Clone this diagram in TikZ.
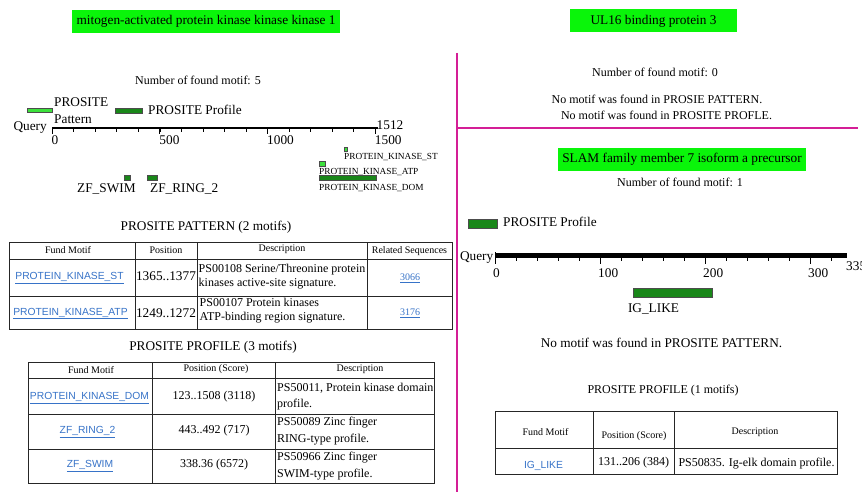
\documentclass[tikz,border=0pt]{standalone}
\usepackage{fontspec}
\setmainfont{Liberation Serif}
\newfontfamily\linkfont{Liberation Sans}
\definecolor{titlegreen}{RGB}{10,245,10}
\definecolor{patgreen}{RGB}{60,225,60}
\definecolor{profgreen}{RGB}{25,135,25}
\definecolor{divider}{RGB}{212,30,150}
\definecolor{linkblue}{RGB}{55,115,200}
\tikzset{
  titlebox/.style={fill=titlegreen, inner sep=0pt, minimum height=23, font=\fontsize{13.3}{15}\selectfont},
  txt/.style={inner sep=0pt, font=\fontsize{13.3}{15}\selectfont},
  plain/.style={inner sep=0pt, font=\fontsize{12}{14}\selectfont},
  small/.style={inner sep=0pt, font=\fontsize{10}{12}\selectfont},
  tiny/.style={inner sep=0pt, font=\fontsize{9.3}{10}\selectfont},
  cell/.style={inner sep=0pt, align=left, font=\fontsize{12}{14}\selectfont},
  link/.style={inner sep=0pt, text=linkblue, font=\linkfont\fontsize{10.3}{12}\selectfont},
  patbar/.style={draw=black!70, fill=patgreen, line width=0.5},
  profbar/.style={draw=black!70, fill=profgreen, line width=0.5},
  grid/.style={line width=0.9, black!85}
}
\begin{document}
\begin{tikzpicture}[x=1pt,y=-1pt]
\clip (0,0) rectangle (862,492);
\fill[white] (0,0) rectangle (862,492);

\draw[divider, line width=2.5] (457,53) -- (457,492);
\draw[divider, line width=2.5] (457,128) -- (858,128);

\node[titlebox, minimum width=268] (t1) at (206,21.5) {mitogen-activated protein kinase kinase kinase 1};
\node[plain] (n1) at (198,80) {Number of found motif: 5};

\draw[patbar] (27,108) rectangle (52,112);
\node[txt, anchor=west, align=left, font=\fontsize{13.3}{17}\selectfont] (lp1) at (54,110.5) {PROSITE\\Pattern};
\draw[profbar] (115,108) rectangle (142,113);
\node[txt, anchor=west] (lf1) at (148,110) {PROSITE Profile};

\node[txt, anchor=east] (q1) at (47,128) {Query};
\draw[line width=2.5] (52,128) -- (377.5,128);
\node[txt, anchor=west] (e1) at (376.5,125.5) {1512};
\foreach \v in {0,100,...,1500}
  \draw[line width=0.5] ({52+\v*0.2155},129) -- ++(0,3);
\foreach \v in {0,500,1000,1500} {
  \draw[line width=0.6] ({52+\v*0.2155},129) -- ++(0,5);
  \node[txt, anchor=north west] (s\v) at ({52+\v*0.2155-0.5},135) {\v};
}

\draw[patbar] (344,147) rectangle (347.5,151.5);
\node[tiny, anchor=west] (m1) at (344,157.5) {PROTEIN\_KINASE\_ST};
\draw[patbar] (319,161) rectangle (325,166);
\node[tiny, anchor=west] (m2) at (319,172) {PROTEIN\_KINASE\_ATP};
\draw[profbar] (319,175.5) rectangle (376,180);
\node[tiny, anchor=west] (m3) at (319,188) {PROTEIN\_KINASE\_DOM};
\draw[profbar] (124,175.5) rectangle (130,180);
\node[txt, anchor=west] (m4) at (77,188.5) {ZF\_SWIM};
\draw[profbar] (147,175.5) rectangle (157,180);
\node[txt, anchor=west] (m5) at (150,188.5) {ZF\_RING\_2};

\node[txt] (h1) at (206,227.5) {PROSITE PATTERN (2 motifs)};
\draw[grid] (9,242) rectangle (452,329);
\draw[grid] (9,259) -- (452,259);
\draw[grid] (9,296) -- (452,296);
\draw[grid] (135,242) -- (135,329);
\draw[grid] (197,242) -- (197,329);
\draw[grid] (367,242) -- (367,329);
\node[small] (a0) at (68,250.5) {Fund Motif};
\node[small] (b0) at (166,250.5) {Position};
\node[small] (c0) at (282,249.5) {Description};
\node[small] (d0) at (409.5,251) {Related Sequences};
\node[link] (a1) at (69.5,278) {\underline{PROTEIN\_KINASE\_ST}};
\node[txt] (b1) at (166,276.5) {1365..1377};
\node[cell, anchor=west] (c1) at (198.5,276.5) {PS00108 Serine/Threonine protein\\kinases active-site signature.};
\node[small, text=linkblue] (d1) at (410,278) {\underline{3066}};
\node[link] (a2) at (70.5,313.5) {\underline{PROTEIN\_KINASE\_ATP}};
\node[txt] (b2) at (166,313) {1249..1272};
\node[cell, anchor=west] (c2) at (199.5,310.5) {PS00107 Protein kinases\\ATP-binding region signature.};
\node[small, text=linkblue] (d2) at (410,313.5) {\underline{3176}};

\node[txt] (h2) at (213,347) {PROSITE PROFILE (3 motifs)};
\draw[grid] (28,362) rectangle (434,483);
\draw[grid] (28,378.5) -- (434,378.5);
\draw[grid] (28,414) -- (434,414);
\draw[grid] (28,449) -- (434,449);
\draw[grid] (152,362) -- (152,483);
\draw[grid] (275,362) -- (275,483);
\node[small] (f0) at (91,370.5) {Fund Motif};
\node[small] (g0) at (216,369.5) {Position (Score)};
\node[small] (k0) at (360,369.5) {Description};
\node[link] (f1) at (89.5,398) {\underline{PROTEIN\_KINASE\_DOM}};
\node[cell] (g1) at (214,397) {123..1508 (3118)};
\node[cell, anchor=west, font=\fontsize{12}{16.5}\selectfont] (k1) at (277,396.5) {PS50011, Protein kinase domain\\profile.};
\node[link] (f2) at (87.5,432) {\underline{ZF\_RING\_2}};
\node[cell] (g2) at (214,431) {443..492 (717)};
\node[cell, anchor=west, font=\fontsize{12}{16.5}\selectfont] (k2) at (277,431) {PS50089 Zinc finger\\RING-type profile.};
\node[link] (f3) at (90,466) {\underline{ZF\_SWIM}};
\node[cell] (g3) at (214,465) {338.36 (6572)};
\node[cell, anchor=west, font=\fontsize{12}{16.5}\selectfont] (k3) at (277,466) {PS50966 Zinc finger\\SWIM-type profile.};

\node[titlebox, minimum width=167] (t2) at (653.5,21) {UL16 binding protein 3};
\node[plain] (n2) at (655,72) {Number of found motif: 0};
\node[plain] (r1) at (657,99.5) {No motif was found in PROSIE PATTERN.};
\node[plain] (r2) at (666.5,115.5) {No motif was found in PROSITE PROFLE.};

\node[titlebox, minimum width=248] (t3) at (682,159.5) {SLAM family member 7 isoform a precursor};
\node[plain] (n3) at (680,182) {Number of found motif: 1};
\draw[profbar] (468,219) rectangle (497,228);
\node[txt, anchor=west] (lf3) at (503,221.5) {PROSITE Profile};
\node[txt, anchor=east] (q3) at (493.5,257.5) {Query};
\draw[line width=4.5] (495,255.5) -- (847,255.5);
\draw[line width=0.6] (495,252) -- (495,262);
\node[txt, anchor=west] (e3) at (846,266) {335};
\foreach \v in {0,20,...,320}
  \draw[line width=0.5] ({495+\v*1.05},256) -- ++(0,5);
\foreach \v in {0,100,200,300} {
  \draw[line width=0.6] ({495+\v*1.05},256) -- ++(0,8);
  \node[txt, anchor=north west] (u\v) at ({495+\v*1.05-2},268) {\v};
}
\draw[profbar] (633,288) rectangle (712,297);
\node[txt] (m6) at (653.5,308.5) {IG\_LIKE};

\node[txt] (r3) at (661.5,343) {No motif was found in PROSITE PATTERN.};
\node[plain] (h3) at (663,391) {PROSITE PROFILE (1 motifs)};
\draw[grid] (495,411) rectangle (837,474);
\draw[grid] (495,448) -- (837,448);
\draw[grid] (593,411) -- (593,474);
\draw[grid] (674,411) -- (674,474);
\node[small] (v0) at (545.5,432) {Fund Motif};
\node[small] (w0) at (634,436) {Position (Score)};
\node[small] (z0) at (755,432) {Description};
\node[link] (v1) at (543.5,465.5) {IG\_LIKE};
\node[cell] (w1) at (633.5,463) {131..206 (384)};
\node[cell] (z1) at (756.5,463.5) {PS50835. Ig-elk domain profile.};
\end{tikzpicture}
\end{document}
